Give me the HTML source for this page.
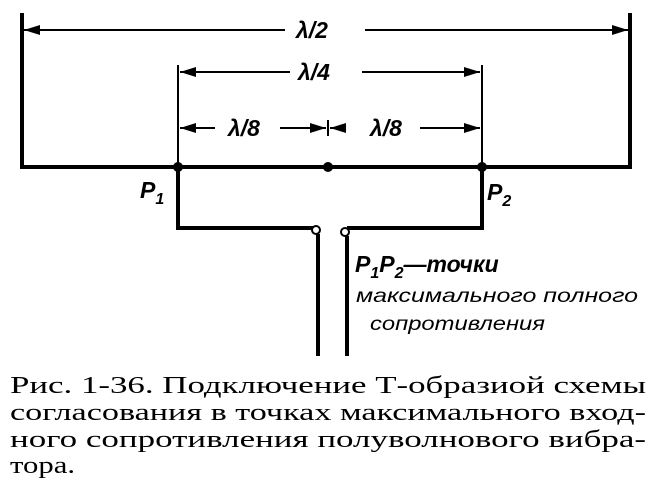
<!DOCTYPE html>
<html><head><meta charset="utf-8"><style>
html,body{margin:0;padding:0;background:#fff;}
body{width:658px;height:485px;position:relative;overflow:hidden;}
svg{position:absolute;left:0;top:0;}
</style></head><body>
<svg width="658" height="485" viewBox="0 0 658 485" font-family="Liberation Sans, sans-serif" font-style="italic" font-weight="bold">
<g stroke="#000" stroke-width="4" fill="none">
<polyline points="22,13 22,167 630,167 630,13"/>
<polyline points="178,167 178,228 314,228"/>
<polyline points="482,167 482,228 347,228"/>
<line x1="318" y1="234" x2="318" y2="356"/>
<line x1="347" y1="236" x2="347" y2="356"/>
</g>
<g stroke="#000" stroke-width="2" fill="none">
<line x1="178" y1="65" x2="178" y2="167"/>
<line x1="482" y1="65" x2="482" y2="167"/>
<line x1="328" y1="120" x2="328" y2="136"/>
<line x1="24" y1="30" x2="285" y2="30"/><line x1="365" y1="30" x2="628" y2="30"/>
<line x1="180" y1="72" x2="290" y2="72"/><line x1="362" y1="72" x2="480" y2="72"/>
<line x1="180" y1="128" x2="215" y2="128"/><line x1="280" y1="128" x2="326" y2="128"/>
<line x1="330" y1="128" x2="345" y2="128"/><line x1="420" y1="128" x2="480" y2="128"/>
<circle cx="316" cy="230" r="4" fill="#fff"/>
<circle cx="345" cy="232" r="4" fill="#fff"/>
</g>
<g fill="#000">
<polygon points="24,30 40,25 40,35"/><polygon points="628,30 612,25 612,35"/>
<polygon points="180,72 196,67 196,77"/><polygon points="480,72 464,67 464,77"/>
<polygon points="180,128 196,123 196,133"/><polygon points="326,128 310,123 310,133"/>
<polygon points="330,128 346,123 346,133"/><polygon points="480,128 464,123 464,133"/>
<circle cx="178" cy="167" r="5"/><circle cx="328" cy="167" r="5"/><circle cx="482" cy="167" r="5"/>
</g>
<g font-size="23" fill="#000">
<text x="296" y="38">λ/2</text>
<text x="298" y="80">λ/4</text>
<text x="228" y="136">λ/8</text>
<text x="370" y="136">λ/8</text>
<text x="140" y="198">P<tspan font-size="16" dy="6">1</tspan></text>
<text x="487" y="200">P<tspan font-size="16" dy="6">2</tspan></text>
<text x="355" y="272">P<tspan font-size="16" dy="6">1</tspan><tspan dy="-6">P</tspan><tspan font-size="16" dy="6">2</tspan><tspan dy="-6">—точки</tspan></text>
</g>
<g font-size="19" fill="#000" font-weight="normal">
<text x="356" y="302" textLength="282" lengthAdjust="spacingAndGlyphs">максимального полного</text>
<text x="370" y="330" textLength="175" lengthAdjust="spacingAndGlyphs">сопротивления</text>
</g>
<g font-family="Liberation Serif, serif" font-style="normal" font-weight="normal" font-size="24" fill="#000">
<text x="10" y="393" textLength="636" lengthAdjust="spacingAndGlyphs">Рис. 1-36. Подключение Т-образиой схемы</text>
<text x="10" y="420" textLength="636" lengthAdjust="spacingAndGlyphs">согласования в точках максимального вход-</text>
<text x="10" y="447" textLength="636" lengthAdjust="spacingAndGlyphs">ного сопротивления полуволнового вибра-</text>
<text x="10" y="473" textLength="65" lengthAdjust="spacingAndGlyphs">тора.</text>
</g>
</svg>
</body></html>
